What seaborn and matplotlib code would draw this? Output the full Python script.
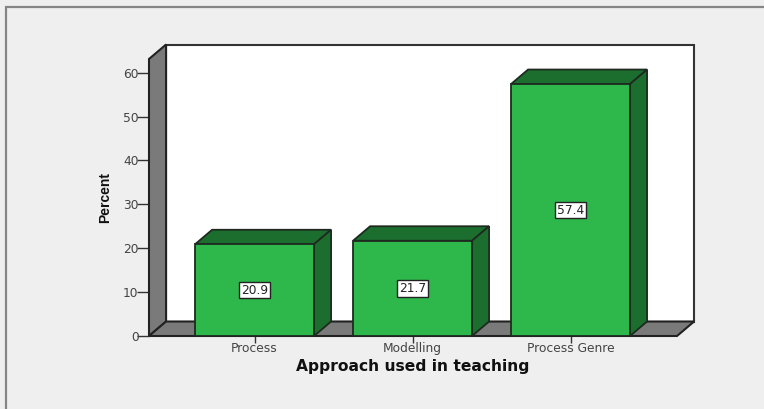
import matplotlib
matplotlib.use("Agg")
import matplotlib.pyplot as plt
import pandas as pd
import seaborn as sns
from matplotlib.patches import Polygon, Rectangle

categories = ["Process", "Modelling", "Process Genre"]
percent = [20.9, 21.7, 57.4]
y_ticks = [0, 10, 20, 30, 40, 50, 60]

BAR_GREEN = "#2EB84C"
DARK_GREEN = "#1C6E2E"
WALL_GRAY = "#7A7A7A"
BG = "#EFEFEF"
EDGE = "#1E2A20"

# depth of the fake 3d box, in data units
DX = 0.108
DY = 3.3
BAR_W = 0.753

sns.set_theme(style="white")
plt.rcParams["font.family"] = ["DejaVu Sans"]

df = pd.DataFrame({"Approach": categories, "Percent": percent})

fig = plt.figure(figsize=(7.64, 4.09), dpi=100, facecolor=BG)
W, H = 764.0, 409.0

# outer frame of the chart window
fig.add_artist(Rectangle((6 / W, -0.02), 1.1, 1 - 7 / H + 0.02, transform=fig.transFigure,
                         fill=False, edgecolor="#858585", linewidth=1.6))

ax = fig.add_axes([149 / W, 1 - 336 / H, 528 / W, 277 / H])
ax.patch.set_alpha(0)

sns.barplot(data=df, x="Approach", y="Percent", ax=ax, color=BAR_GREEN, saturation=1,
            width=BAR_W, edgecolor=EDGE, linewidth=1.3, zorder=5)

ax.set_xlim(-0.668, 2.674)
ax.set_ylim(0, 63.1)
x0, x1 = ax.get_xlim()
y0, y1 = ax.get_ylim()


def poly(points, color, zorder, lw=1.3, edge=EDGE):
    ax.add_patch(Polygon(points, closed=True, facecolor=color, edgecolor=edge,
                         linewidth=lw, zorder=zorder, clip_on=False))


# back wall, left wall, floor
poly([(x0 + DX, y0 + DY), (x1 + DX, y0 + DY), (x1 + DX, y1 + DY), (x0 + DX, y1 + DY)],
     "white", 1, lw=1.5, edge="#333333")
poly([(x0, y0), (x0 + DX, y0 + DY), (x0 + DX, y1 + DY), (x0, y1)], WALL_GRAY, 2, lw=1.5, edge="#222222")
poly([(x0, y0), (x1, y0), (x1 + DX, y0 + DY), (x0 + DX, y0 + DY)], WALL_GRAY, 2, lw=1.5, edge="#222222")

# top and side of each bar
for i, val in enumerate(percent):
    left = i - BAR_W / 2
    right = i + BAR_W / 2
    poly([(left, val), (right, val), (right + DX, val + DY), (left + DX, val + DY)], DARK_GREEN, 4)
    poly([(right, 0), (right + DX, DY), (right + DX, val + DY), (right, val)], DARK_GREEN, 4)
    ax.text(i, val / 2, f"{val:.1f}", ha="center", va="center", fontsize=8.8, color="#222222",
            zorder=7, bbox=dict(boxstyle="square,pad=0.14", facecolor="white", edgecolor="#222222", linewidth=1))

sns.despine(ax=ax, left=True, bottom=True, top=True, right=True)

ax.set_yticks(y_ticks)
ax.set_xticks(range(len(categories)))
ax.set_xticklabels(categories)
ax.tick_params(axis="y", length=8.5, width=1, color="#333333", labelsize=8.8, labelcolor="#444444", pad=-1, left=True)
ax.tick_params(axis="x", length=5, width=1, color="#333333", labelsize=8.8, labelcolor="#444444", pad=-1, bottom=True)

ax.set_xlabel("Approach used in teaching", fontsize=11.2, fontweight="bold", color="#111111", labelpad=3)
ax.set_ylabel("")
fig.text(105 / W, 1 - 197 / H, "Percent", rotation=90, ha="center", va="center",
         fontsize=10, fontweight="bold", family="Liberation Sans", color="#111111")

fig.savefig("out.png", dpi=100, facecolor=BG)
